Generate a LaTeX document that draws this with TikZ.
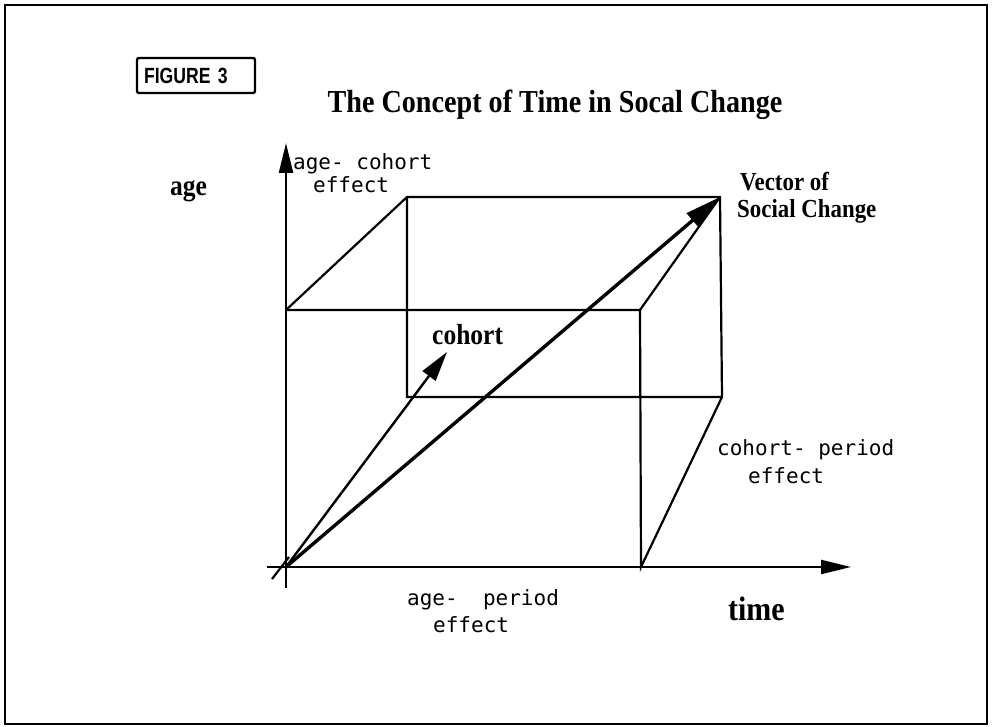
\documentclass[tikz,border=0pt]{standalone}
\usepackage{fontspec}
\usetikzlibrary{arrows.meta}
\newfontfamily\plotfont{DejaVu Sans Mono}
\newfontfamily\headfont{Liberation Serif}[FakeStretch=0.88]
\newfontfamily\tagfont{Liberation Sans}[FakeStretch=0.8]

\begin{document}
\begin{tikzpicture}[x=1pt, y=-1pt,
    edge/.style={line width=2.2pt},
    axisarrow/.style={edge, -{Triangle[length=30pt,width=14pt]}},
    plotlabel/.style={anchor=base west, inner sep=0pt, font=\plotfont\fontsize{21}{21}\selectfont},
    serlabel/.style={anchor=base west, inner sep=0pt, font=\headfont\bfseries\fontsize{#1}{#1}\selectfont},
    tagbox/.style={draw, line width=2.4pt, rounded corners=2pt, minimum width=118pt, minimum height=35pt,
        inner xsep=7pt, text width=104pt, align=left, font=\tagfont\bfseries\fontsize{22}{22}\selectfont}]
    \useasboundingbox (0,0) rectangle (994,727);
    \draw[line width=2.4pt] (5,5) rectangle (987,724);

    \coordinate (O) at (286,567);
    \coordinate (ybot) at (286,588);
    \coordinate (ytop) at (286,143);
    \coordinate (xleft) at (267,567);
    \coordinate (xright) at (851,567);
    \coordinate (s1) at (272,579);
    \coordinate (s2) at (289,557);
    \coordinate (ftl) at (286,310);
    \coordinate (ftr) at (640,310);
    \coordinate (fbr) at (641,567);
    \coordinate (btl) at (407,197);
    \coordinate (btr) at (720,197);
    \coordinate (bbl) at (407,397);
    \coordinate (bbr) at (722,397);
    \coordinate (chead) at (447,352);

    \draw[axisarrow] (ybot) -- (ytop);
    \draw[axisarrow] (xleft) -- (xright);
    \draw[edge] (s1) -- (s2);
    \draw[edge] (ftl) -- (btl) -- (btr) -- (bbr) -- (bbl) -- (btl);
    \draw[edge] (ftl) -- (ftr) -- (fbr) -- (bbr);
    \draw[edge] (ftr) -- (btr);
    \draw[line width=2.4pt, -{Triangle[length=30pt,width=16pt]}] (O) -- (chead);
    \draw[line width=3.4pt, -{Triangle[length=36pt,width=18pt]}] (O) -- (btr);

    \node[tagbox] (figtag) at (196,75.5) {FIGURE 3};
    \node[anchor=base, inner sep=0pt, font=\headfont\bfseries\fontsize{32}{32}\selectfont] (title) at (555,113) {The Concept of Time in Socal Change};
    \node[serlabel=29] (agelab) at (170,196) {age};
    \node[serlabel=34] (timelab) at (728,620) {time};
    \node[serlabel=29] (cohortlab) at (432,345) {cohort};
    \node[serlabel=26] (veclab1) at (740,191) {Vector of};
    \node[serlabel=26] (veclab2) at (737,218) {Social Change};
    \node[plotlabel] (ac1) at (293,170) {age- cohort};
    \node[plotlabel] (ac2) at (313,193) {effect};
    \node[plotlabel] (cp1) at (717,455) {cohort- period};
    \node[plotlabel] (cp2) at (748,483) {effect};
    \node[plotlabel] (ap1) at (407,605) {age-\ \ period};
    \node[plotlabel] (ap2) at (433,632) {effect};
\end{tikzpicture}
\end{document}
